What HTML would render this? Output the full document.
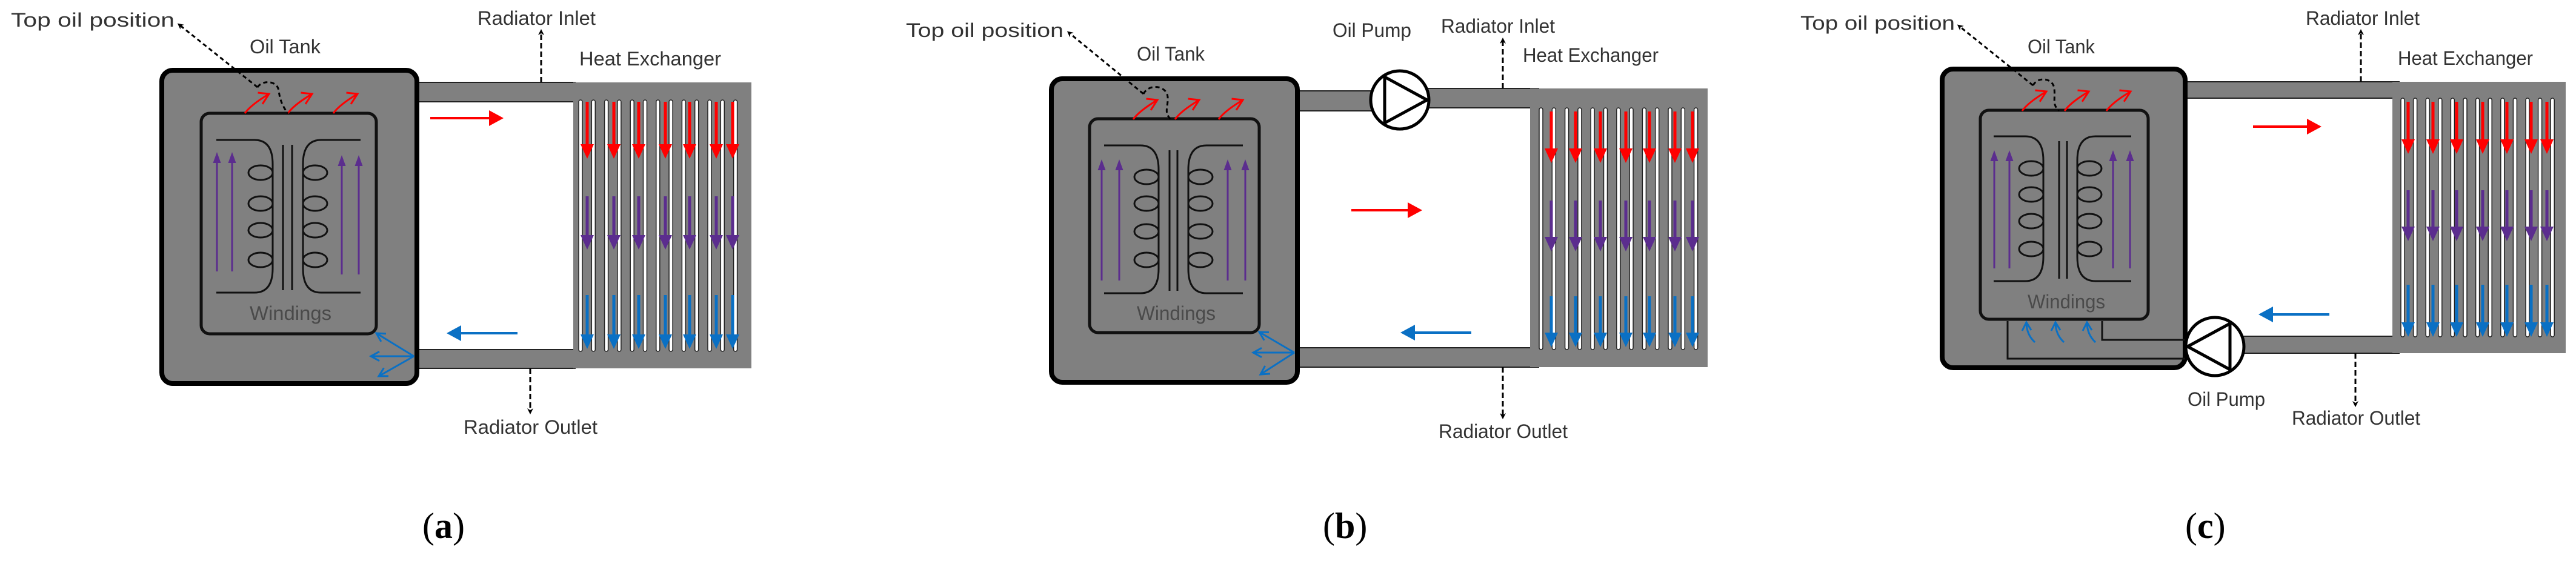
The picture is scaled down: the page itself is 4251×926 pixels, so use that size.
<!DOCTYPE html>
<html><head><meta charset="utf-8"><style>
html,body{margin:0;padding:0;background:#fff}
svg{display:block}
text{font-family:"Liberation Sans",sans-serif;fill:#333;font-size:32px}
.cap{font-family:"Liberation Serif",serif;font-size:60px;fill:#000}
.cap tspan.b{font-weight:bold}
</style></head><body>
<svg id="s" width="4251" height="926" viewBox="0 0 4251 926" xmlns="http://www.w3.org/2000/svg">
<defs>
<marker id="mk" markerWidth="10" markerHeight="10" refX="6" refY="5" orient="auto" markerUnits="userSpaceOnUse"><path d="M0,0 L10,5 L0,10 L3,5 z" fill="#000"/></marker>
</defs>
<g id="g"></g>
<text x="18" y="44" textLength="270" lengthAdjust="spacingAndGlyphs">Top oil position</text>
<text x="412" y="88" textLength="117" lengthAdjust="spacingAndGlyphs">Oil Tank</text>
<text x="788" y="41" textLength="195" lengthAdjust="spacingAndGlyphs">Radiator Inlet</text>
<text x="956" y="108" textLength="234" lengthAdjust="spacingAndGlyphs">Heat Exchanger</text>
<text x="765" y="716" textLength="221" lengthAdjust="spacingAndGlyphs">Radiator Outlet</text>
<text x="412" y="528" textLength="135" lengthAdjust="spacingAndGlyphs" style="fill:#4a4a4a">Windings</text>
<text x="1495" y="61" textLength="260" lengthAdjust="spacingAndGlyphs">Top oil position</text>
<text x="1876" y="100" textLength="112" lengthAdjust="spacingAndGlyphs">Oil Tank</text>
<text x="2199" y="61" textLength="130" lengthAdjust="spacingAndGlyphs">Oil Pump</text>
<text x="2378" y="54" textLength="188" lengthAdjust="spacingAndGlyphs">Radiator Inlet</text>
<text x="2513" y="102" textLength="224" lengthAdjust="spacingAndGlyphs">Heat Exchanger</text>
<text x="2374" y="723" textLength="213" lengthAdjust="spacingAndGlyphs">Radiator Outlet</text>
<text x="1876" y="528" textLength="130" lengthAdjust="spacingAndGlyphs" style="fill:#4a4a4a">Windings</text>
<text x="2971" y="49" textLength="255" lengthAdjust="spacingAndGlyphs">Top oil position</text>
<text x="3346" y="88" textLength="111" lengthAdjust="spacingAndGlyphs">Oil Tank</text>
<text x="3805" y="41" textLength="188" lengthAdjust="spacingAndGlyphs">Radiator Inlet</text>
<text x="3957" y="107" textLength="223" lengthAdjust="spacingAndGlyphs">Heat Exchanger</text>
<text x="3610" y="670" textLength="128" lengthAdjust="spacingAndGlyphs">Oil Pump</text>
<text x="3782" y="701" textLength="212" lengthAdjust="spacingAndGlyphs">Radiator Outlet</text>
<text x="3346" y="509" textLength="128" lengthAdjust="spacingAndGlyphs" style="fill:#4a4a4a">Windings</text>
<text class="cap" x="697" y="888">(<tspan class="b">a</tspan>)</text>
<text class="cap" x="2183" y="888">(<tspan class="b">b</tspan>)</text>
<text class="cap" x="3606" y="888">(<tspan class="b">c</tspan>)</text>
</svg>
<script>
const G=document.getElementById('g');let h='';
const GR='#808080',RED='#ff0000',PUR='#5b2d8e',BLU='#0a70c4';
function arrow(x1,y1,x2,y2,c,w,hl,hw){const dx=x2-x1,dy=y2-y1,L=Math.hypot(dx,dy),ux=dx/L,uy=dy/L;
const bx=x2-ux*hl,by=y2-uy*hl,px=-uy*hw/2,py=ux*hw/2;
h+=`<line x1="${x1}" y1="${y1}" x2="${bx}" y2="${by}" stroke="${c}" stroke-width="${w}"/>`;
h+=`<polygon points="${x2},${y2} ${bx+px},${by+py} ${bx-px},${by-py}" fill="${c}"/>`;}
function open(x1,y1,x2,y2,c,w,hl){const dx=x2-x1,dy=y2-y1,L=Math.hypot(dx,dy),ux=dx/L,uy=dy/L;
const a=0.5;function r(t){return [x2-hl*(ux*Math.cos(t)-uy*Math.sin(t)),y2-hl*(uy*Math.cos(t)+ux*Math.sin(t))]}
const p=r(a),q=r(-a);
h+=`<line x1="${x1}" y1="${y1}" x2="${x2}" y2="${y2}" stroke="${c}" stroke-width="${w}"/>`;
h+=`<polyline points="${p[0]},${p[1]} ${x2},${y2} ${q[0]},${q[1]}" fill="none" stroke="${c}" stroke-width="${w}"/>`;}
function curvy(x1,y1,x2,y2,c){
const mx=(x1+x2)/2-6,my=(y1+y2)/2+6;
h+=`<path d="M${x1},${y1} Q${mx-4},${my-4} ${x2},${y2}" fill="none" stroke="${c}" stroke-width="3"/>`;
const dx=x2-x1,dy=y2-y1,L=Math.hypot(dx,dy),ux=dx/L,uy=dy/L;
h+=`<polyline points="${x2-14*ux},${y2-14*uy+8} ${x2},${y2} ${x2-16*ux-6},${y2-2}" fill="none" stroke="${c}" stroke-width="3"/>`;}
function panel(P){
for(const pp of P.pipes){h+=`<rect x="${pp[0]}" y="${pp[1]}" width="${pp[2]-pp[0]}" height="${pp[3]-pp[1]}" fill="${GR}"/>`;
h+=`<line x1="${pp[0]}" y1="${pp[1]}" x2="${pp[2]}" y2="${pp[1]}" stroke="#222" stroke-width="2"/><line x1="${pp[0]}" y1="${pp[3]}" x2="${pp[2]}" y2="${pp[3]}" stroke="#222" stroke-width="2"/>`;}
const [hx1,hy1,hx2,hy2,sy1,sy2]=P.hx;
h+=`<rect x="${hx1}" y="${hy1}" width="${hx2-hx1}" height="${hy2-hy1}" fill="${GR}"/>`;
for(let i=0;i<P.ns;i++){const x=P.s0+i*P.ss;h+=`<rect x="${x}" y="${sy1}" width="6" height="${sy2-sy1}" rx="3" fill="#fff" stroke="#222" stroke-width="1.5"/>`;}
for(const x of P.cols){for(const [a,b,c] of [[P.r[0],P.r[1],RED],[P.p[0],P.p[1],PUR],[P.b[0],P.b[1],BLU]])arrow(x,a,x,b,c,5,24,22);}
const T=P.tank;h+=`<rect x="${T[0]}" y="${T[1]}" width="${T[2]}" height="${T[3]}" rx="18" fill="${GR}" stroke="#000" stroke-width="8"/>`;
const I=P.inner;h+=`<rect x="${I[0]}" y="${I[1]}" width="${I[2]}" height="${I[3]}" rx="14" fill="${GR}" stroke="#111" stroke-width="5"/>`;
const W=P.w;
h+=`<path d="M${W.xl},${W.yt} H${W.xm-30} Q${W.xm},${W.yt} ${W.xm},${W.yt+40} V${W.yb-40} Q${W.xm},${W.yb} ${W.xm-30},${W.yb} H${W.xl}" fill="none" stroke="#111" stroke-width="3"/>`;
h+=`<path d="M${W.xr},${W.yt} H${W.xn+30} Q${W.xn},${W.yt} ${W.xn},${W.yt+40} V${W.yb-40} Q${W.xn},${W.yb} ${W.xn+30},${W.yb} H${W.xr}" fill="none" stroke="#111" stroke-width="3"/>`;
for(const y of W.ly){h+=`<ellipse cx="${W.xm-20}" cy="${y}" rx="20" ry="12" fill="none" stroke="#111" stroke-width="3"/><ellipse cx="${W.xn+20}" cy="${y}" rx="20" ry="12" fill="none" stroke="#111" stroke-width="3"/>`;}
for(const x of W.core)h+=`<line x1="${x}" y1="${W.yt+8}" x2="${x}" y2="${W.yb-4}" stroke="#111" stroke-width="3"/>`;
for(const [x,y1,y2] of W.pa)arrow(x,y1,x,y2,PUR,3,18,13);
for(const x of P.sr)curvy(x,P.srY,x+40,P.srY-32,RED);
arrow(...P.ra,RED,4,24,26);arrow(...P.ba,BLU,4,24,26);
h+=`<path d="${P.top}" fill="none" stroke="#000" stroke-width="3" stroke-dasharray="7,5"/>`;
h+=`<line x1="${P.tp[2]}" y1="${P.tp[3]}" x2="${P.tp[0]}" y2="${P.tp[1]}" stroke="#000" stroke-width="3" stroke-dasharray="7,5" marker-end="url(#mk)"/>`;
for(const d of P.dash)h+=`<line x1="${d[0]}" y1="${d[1]}" x2="${d[2]}" y2="${d[3]}" stroke="#000" stroke-width="3" stroke-dasharray="9,5" marker-end="url(#mk)"/>`;
}
function pump(cx,cy,dir){h+=`<circle cx="${cx}" cy="${cy}" r="48" fill="#fff" stroke="#000" stroke-width="5"/>`;
const s=dir;h+=`<polygon points="${cx-25*s},${cy-38} ${cx+45*s},${cy} ${cx-25*s},${cy+38}" fill="none" stroke="#000" stroke-width="5"/>`;}
panel({pipes:[[684,136,950,168],[684,577,950,608]],hx:[946,136,1240,608,165,580],ns:13,s0:955,ss:21.3,
cols:[969,1013,1054,1098,1138,1182,1209],r:[168,262],p:[324,412],b:[487,576],
tank:[267,116,421,517],inner:[332,187,289,364],
w:{xl:357,xm:450,xr:595,xn:500,yt:231,yb:483,ly:[285,336,380,429],core:[467,482],pa:[[358,448,251],[383,448,251],[564,453,256],[592,453,256]]},
sr:[404,475,550],srY:187,ra:[710,195,831,195],ba:[854,550,737,550],
top:"M425,144 C432,132 458,132 460,150 C462,165 466,175 475,187",tp:[296,41,425,144],
dash:[[893,136,893,52],[875,608,875,680]]});
open(683,588,621,550,BLU,3,16);open(683,588,612,588,BLU,3,16);open(683,588,625,621,BLU,3,16);
panel({pipes:[[2137,150,2270,183],[2350,146,2540,178],[2137,574,2540,606]],hx:[2525,146,2818,606,178,577],ns:13,s0:2540,ss:21.3,
cols:[2560,2600,2641,2683,2722,2764,2793],r:[184,269],p:[331,415],b:[489,573],
tank:[1735,130,406,501],inner:[1798,196,280,353],
w:{xl:1822,xm:1912,xr:2051,xn:1961,yt:240,yb:484,ly:[292,336,382,429],core:[1930,1943],pa:[[1818,463,263],[1847,463,263],[2026,463,263],[2055,463,263]]},
sr:[1870,1939,2011],srY:197,ra:[2230,347,2347,347],ba:[2428,549,2311,549],
top:"M1887,155 C1895,138 1925,140 1927,160 C1928,178 1920,185 1932,197",tp:[1764,54,1887,155],
dash:[[2480,146,2480,66],[2480,606,2480,688]]});
pump(2310,165,1);
open(2136,582,2078,548,BLU,3,16);open(2136,582,2068,582,BLU,3,16);open(2136,582,2080,618,BLU,3,16);
panel({pipes:[[3602,135,3960,162],[3700,555,3960,583]],hx:[3948,135,4234,583,162,556],ns:13,s0:3962,ss:20.6,
cols:[3974,4015,4054,4097,4137,4177,4203],r:[168,254],p:[314,398],b:[470,556],
tank:[3205,114,401,493],inner:[3268,182,277,345],
w:{xl:3290,xm:3372,xr:3517,xn:3428,yt:225,yb:464,ly:[278,321,365,411],core:[3398,3411],pa:[[3291,443,248],[3316,443,248],[3487,443,248],[3515,443,248]]},
sr:[3337,3407,3476],srY:183,ra:[3718,209,3831,209],ba:[3844,519,3727,519],
top:"M3355,141 C3362,126 3388,128 3390,146 C3392,165 3386,172 3398,183",tp:[3233,43,3355,141],
dash:[[3896,135,3896,52],[3887,583,3887,668]]});
h+=`<polyline points="3313,530 3313,592 3606,592" fill="none" stroke="#111" stroke-width="3"/><polyline points="3469,530 3469,561 3606,561" fill="none" stroke="#111" stroke-width="3"/>`;
for(const x of [3346,3394,3446]){h+=`<path d="M${x+12},565 Q${x-2},552 ${x-2},532" fill="none" stroke="${BLU}" stroke-width="3"/><polyline points="${x-9},546 ${x-2},532 ${x+6},545" fill="none" stroke="${BLU}" stroke-width="3"/>`;}
pump(3655,572,-1);
G.innerHTML=h;
</script>
</body></html>
